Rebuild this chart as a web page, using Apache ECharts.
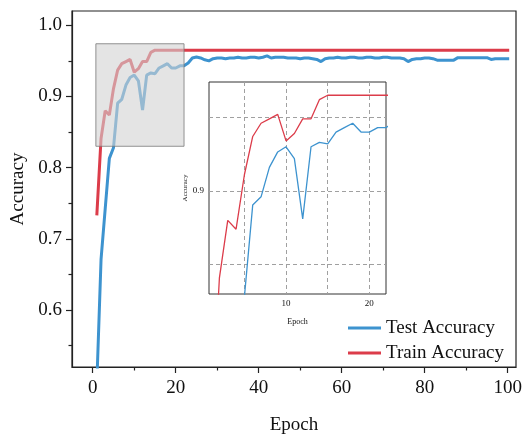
<!DOCTYPE html>
<html>
<head>
<meta charset="utf-8">
<script src="https://cdn.jsdelivr.net/npm/echarts@6/dist/echarts.min.js"></script>
<style>html,body{margin:0;padding:0;background:#fff}#c{width:528px;height:440px}</style>
</head>
<body>
<div id="c"></div>
<script>
// ---- data ----
const epochs = [1,2,3,4,5,6,7,8,9,10,11,12,13,14,15,16,17,18,19,20,21,22,23,24,25,26,27,28,29,30,31,32,33,34,35,36,37,38,39,40,41,42,43,44,45,46,47,48,49,50,51,52,53,54,55,56,57,58,59,60,61,62,63,64,65,66,67,68,69,70,71,72,73,74,75,76,77,78,79,80,81,82,83,84,85,86,87,88,89,90,91,92,93,94,95,96,97,98,99,100];
const testAcc = [0.500,0.671,0.742,0.813,0.828,0.8905,0.896,0.916,0.9265,0.930,
  0.922,0.881,0.930,0.933,0.932,0.940,0.943,0.946,0.940,0.940,
  0.943,0.943,0.947,0.954,0.9555,0.954,0.9515,0.950,0.953,0.954,
  0.954,0.953,0.954,0.954,0.955,0.954,0.954,0.955,0.955,0.954,
  0.955,0.957,0.954,0.955,0.955,0.955,0.954,0.954,0.954,0.953,
  0.954,0.954,0.953,0.952,0.949,0.953,0.954,0.954,0.955,0.954,
  0.954,0.955,0.955,0.954,0.954,0.955,0.955,0.954,0.954,0.955,
  0.955,0.954,0.954,0.954,0.953,0.949,0.952,0.953,0.953,0.954,
  0.954,0.953,0.951,0.951,0.951,0.951,0.951,0.9545,0.9545,0.9545,
  0.9545,0.9545,0.9545,0.9545,0.9545,0.952,0.953,0.953,0.953,0.953];
const trainAcc = [0.735,0.841,0.880,0.874,0.911,0.937,0.946,0.949,0.952,0.934,
  0.939,0.949,0.949,0.962,0.965,0.965,0.965,0.965,0.965,0.965,
  0.965,0.965,0.965,0.965,0.965,0.965,0.965,0.965,0.965,0.965,
  0.965,0.965,0.965,0.965,0.965,0.965,0.965,0.965,0.965,0.965,
  0.965,0.965,0.965,0.965,0.965,0.965,0.965,0.965,0.965,0.965,
  0.965,0.965,0.965,0.965,0.965,0.965,0.965,0.965,0.965,0.965,
  0.965,0.965,0.965,0.965,0.965,0.965,0.965,0.965,0.965,0.965,
  0.965,0.965,0.965,0.965,0.965,0.965,0.965,0.965,0.965,0.965,
  0.965,0.965,0.965,0.965,0.965,0.965,0.965,0.965,0.965,0.965,
  0.965,0.965,0.965,0.965,0.965,0.965,0.965,0.965,0.965,0.965];
const xTicks = [0,20,40,60,80,100];
const yTicks = [0.6,0.7,0.8,0.9,1.0];
const insetXGrid = [5,10,15,20];
const insetXLabels = [10,20];
const insetYGrid = [0.85,0.9,0.95];
const insetYLabels = [0.9];
const zoomX = [0.75,22];
const zoomY = [0.83,0.974];

const BLUE = '#3d93cf', RED = '#dc3c4a';
const FONT = '"Liberation Serif", "DejaVu Serif", serif';
const pairs = (ys) => epochs.map((e,i)=>[e, ys[i]]);

const chart = echarts.init(document.getElementById('c'), null, {renderer:'canvas'});
const axisLineStyle = {color:'#222', width:1.2};
chart.setOption({
  animation:false,
  backgroundColor:'#fff',
  grid:[
    {left:72, top:11, width:444, height:361, show:true, borderColor:'#222', borderWidth:1.2, backgroundColor:'transparent'},
    {left:209, top:82, width:177, height:212, show:true, borderColor:'#333', borderWidth:1, backgroundColor:'transparent'}
  ],
  legend:{
    data:['Test Accuracy','Train Accuracy'],
    orient:'vertical', left:348, top:318, padding:0, itemGap:5,
    icon:'rect', itemWidth:33, itemHeight:3,
    textStyle:{fontFamily:FONT, fontSize:19, color:'#111', lineHeight:20}
  },
  xAxis:[
    {gridIndex:0, type:'value', min:-5, max:102,
     name:'Epoch', nameLocation:'middle', nameGap:49,
     nameTextStyle:{fontFamily:FONT, fontSize:19, color:'#111'},
     axisLine:{show:true, onZero:false, lineStyle:axisLineStyle},
     axisTick:{show:true, inside:false, length:6, customValues:xTicks, lineStyle:axisLineStyle},
     minorTick:{show:true, splitNumber:2, length:3.5, lineStyle:axisLineStyle},
     axisLabel:{customValues:xTicks, margin:12, fontFamily:FONT, fontSize:19, color:'#111'},
     splitLine:{show:false}},
    {gridIndex:1, type:'value', min:zoomX[0], max:zoomX[1],
     name:'Epoch', nameLocation:'middle', nameGap:24,
     nameTextStyle:{fontFamily:FONT, fontSize:8, color:'#111'},
     axisLine:{show:false, onZero:false},
     axisTick:{show:false, customValues:insetXGrid},
     axisLabel:{customValues:insetXLabels, margin:5, fontFamily:FONT, fontSize:9, color:'#111'},
     splitLine:{show:true, lineStyle:{color:'#a0a0a0', type:[4,3], width:1}}}
  ],
  yAxis:[
    {gridIndex:0, type:'value', min:0.52, max:1.02,
     name:'Accuracy', nameLocation:'middle', nameGap:36, nameRotate:90,
     nameTextStyle:{fontFamily:FONT, fontSize:19, color:'#111'},
     axisLine:{show:true, onZero:false, lineStyle:axisLineStyle},
     axisTick:{show:true, inside:false, length:6, customValues:yTicks, lineStyle:axisLineStyle},
     minorTick:{show:true, splitNumber:2, length:3.5, lineStyle:axisLineStyle},
     axisLabel:{customValues:yTicks, margin:10, fontFamily:FONT, fontSize:19, color:'#111',
       formatter:(v)=>v.toFixed(1)},
     splitLine:{show:false}},
    {gridIndex:1, type:'value', min:zoomY[0], max:zoomY[1],
     name:'Accuracy', nameLocation:'middle', nameGap:18, nameRotate:90,
     nameTextStyle:{fontFamily:FONT, fontSize:7, color:'#111'},
     axisLine:{show:false, onZero:false},
     axisTick:{show:false, customValues:insetYGrid},
     axisLabel:{customValues:insetYLabels, margin:5, fontFamily:FONT, fontSize:9, color:'#111',
       formatter:(v)=>v.toFixed(1)},
     splitLine:{show:true, lineStyle:{color:'#a0a0a0', type:[4,3], width:1}}}
  ],
  series:[
    {name:'Test Accuracy', type:'line', xAxisIndex:0, yAxisIndex:0, data:pairs(testAcc),
     symbol:'none', color:BLUE, lineStyle:{width:3, color:BLUE, cap:'square'}, clip:true, z:2},
    {name:'Train Accuracy', type:'line', xAxisIndex:0, yAxisIndex:0, data:pairs(trainAcc),
     symbol:'none', color:RED, lineStyle:{width:3, color:RED, cap:'square'}, clip:true, z:3},
    {name:'Test Accuracy', type:'line', xAxisIndex:1, yAxisIndex:1, data:pairs(testAcc),
     symbol:'none', color:BLUE, lineStyle:{width:1.3, color:BLUE}, clip:true, z:6},
    {name:'Train Accuracy', type:'line', xAxisIndex:1, yAxisIndex:1, data:pairs(trainAcc),
     symbol:'none', color:RED, lineStyle:{width:1.3, color:RED}, clip:true, z:6},
    {name:'zoomBox', type:'line', xAxisIndex:0, yAxisIndex:0, data:[], zlevel:1, z:10, silent:true,
     markArea:{silent:true, zlevel:1, z:10,
       itemStyle:{color:'rgba(210,210,210,0.6)', borderColor:'rgba(120,120,120,0.8)', borderWidth:1},
       data:[[{coord:[zoomX[0], zoomY[0]]},{coord:[zoomX[1], zoomY[1]]}]]}}
  ]
});
</script>
</body>
</html>
